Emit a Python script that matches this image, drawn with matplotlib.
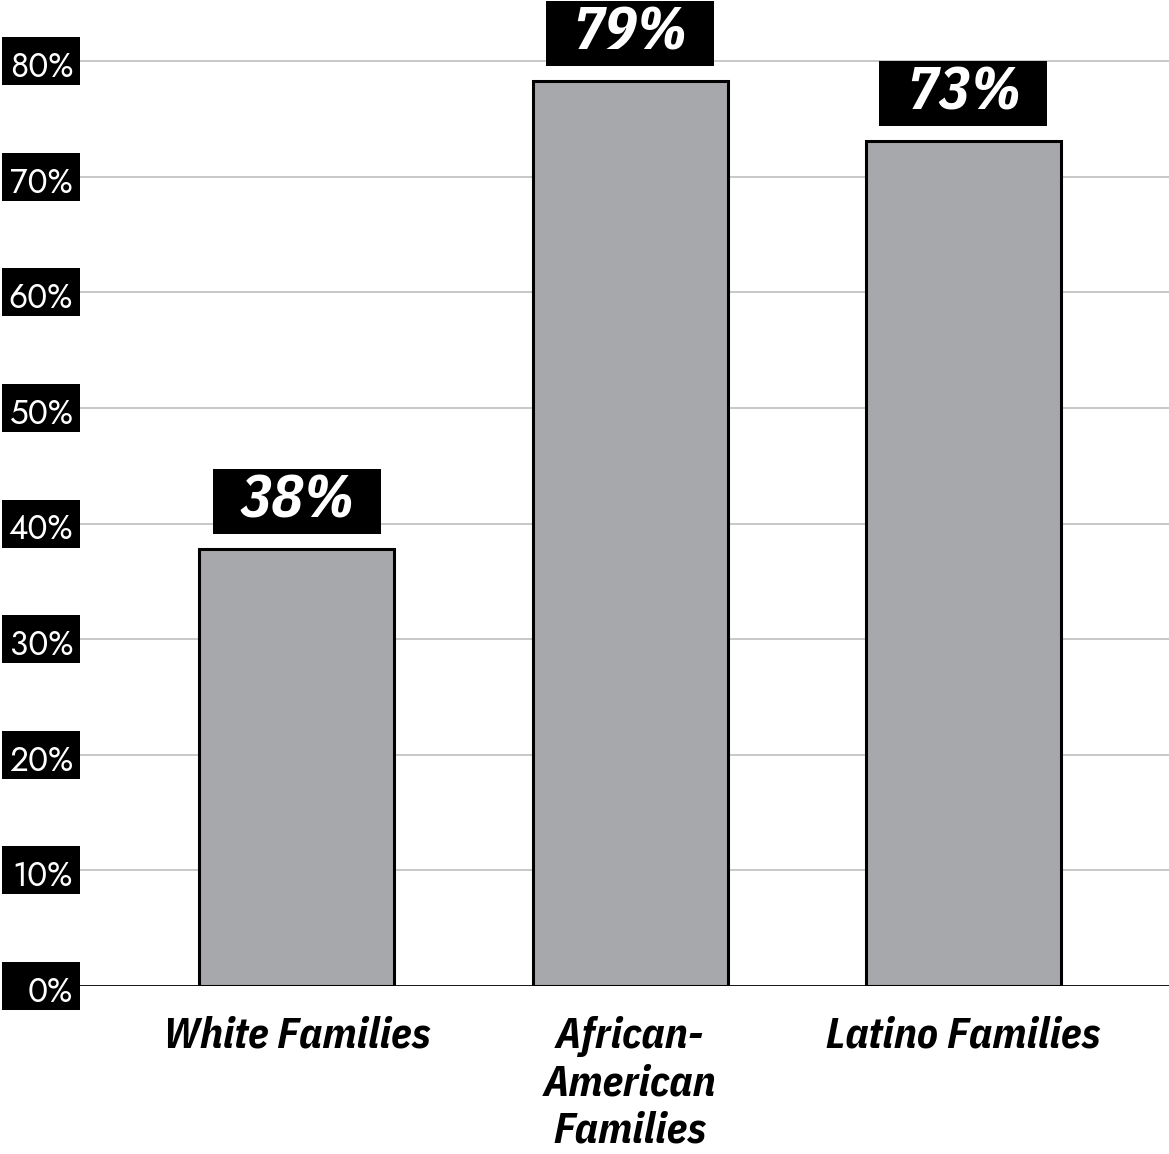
import matplotlib
matplotlib.use("Agg")
import matplotlib.pyplot as plt
from matplotlib.patches import Rectangle
from matplotlib.transforms import blended_transform_factory

groups = ["White Families", "African-\nAmerican\nFamilies", "Latino Families"]
values = [37.8, 78.3, 73.1]
value_labels = ["38%", "79%", "73%"]
yticks = [0, 10, 20, 30, 40, 50, 60, 70, 80]
ytick_labels = [f"{t}%" for t in yticks]

bold_font = ["IBM Plex Sans Condensed", "DejaVu Sans"]
tick_font = ["Jost", "IBM Plex Sans Condensed", "DejaVu Sans"]

W, H, DPI = 1169, 1154, 100
fig = plt.figure(figsize=(W / DPI, H / DPI), dpi=DPI)
ax = fig.add_axes([80 / W, (H - 986) / H, 1089 / W, 986 / H])

px_x = 333.5          # pixels per category
px_y = 115.6 / 10     # pixels per percent
ax.set_xlim(-216.5 / px_x, (W - 296.5) / px_x)
ax.set_ylim(0, 986 / px_y)

x = list(range(len(groups)))
ax.bar(x, values, width=195 / px_x, color="#a7a8ab", edgecolor="black",
       linewidth=2.2, zorder=3)

for t in yticks[1:]:
    ax.axhline(t, color="#c4c4c4", linewidth=1.3, zorder=1)
ax.axhline(0, color="black", linewidth=2, zorder=4)

for s in ax.spines.values():
    s.set_visible(False)
ax.set_xticks([])
ax.set_yticks([])

# y tick labels in black boxes
trans = blended_transform_factory(fig.transFigure, ax.transData)
box_h = 48 / px_y
for t, lab in zip(yticks, ytick_labels):
    ax.add_patch(Rectangle((2 / W, t - box_h / 2), 78 / W, box_h, transform=trans,
                           facecolor="black", edgecolor="none", clip_on=False, zorder=5))
    ax.text(73 / W, t - 0.5, lab, transform=trans, color="white", fontsize=24,
            family=tick_font, ha="right", va="center", zorder=6, clip_on=False)

# value labels in black boxes above bars
bw, bh = 168 / px_x, 65 / px_y
for xi, v, lab in zip(x, values, value_labels):
    y0 = v + 15 / px_y
    ax.add_patch(Rectangle((xi - bw / 2, y0), bw, bh, facecolor="black",
                           edgecolor="none", clip_on=False, zorder=5))
    ax.text(xi, y0 + bh / 2, lab, color="white", fontsize=43, fontweight="bold",
            fontstyle="italic", family=bold_font, ha="center", va="center",
            zorder=6, clip_on=False)

# category labels under the axis
for xi, g in zip(x, groups):
    ax.text(xi, -30 / px_y, g, color="black", fontsize=31, fontweight="bold",
            fontstyle="italic", family=bold_font, ha="center", va="top",
            linespacing=1.2, clip_on=False)

fig.savefig("out.png", dpi=DPI)
